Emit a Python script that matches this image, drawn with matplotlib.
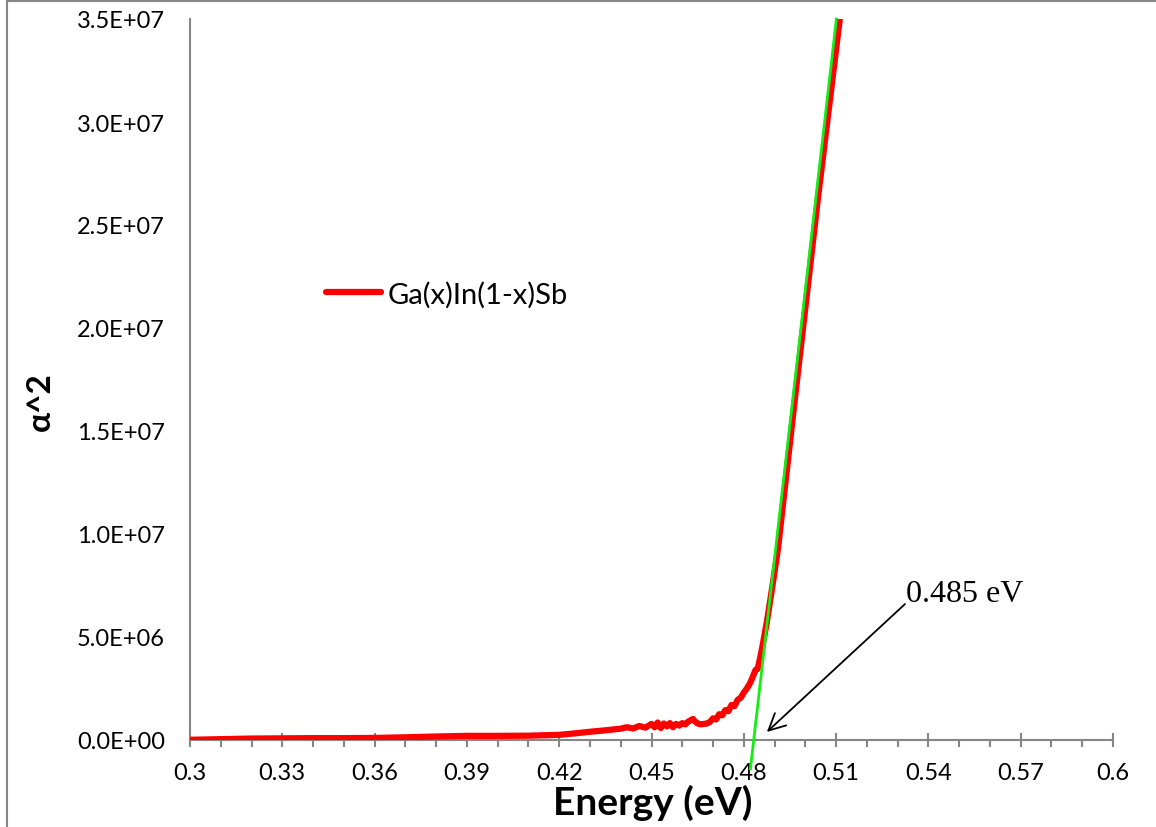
import matplotlib
matplotlib.use("Agg")
import matplotlib.pyplot as plt
from matplotlib.lines import Line2D
from matplotlib.ticker import MultipleLocator, FuncFormatter

# ---- data ----
energy = [0.300, 0.310, 0.320, 0.330, 0.340, 0.350, 0.360, 0.370, 0.380, 0.390,
          0.400, 0.410, 0.420, 0.425, 0.430, 0.435, 0.440, 0.442, 0.444, 0.446,
          0.448, 0.450, 0.451, 0.452, 0.453, 0.454, 0.455, 0.456, 0.457, 0.458,
          0.459, 0.460, 0.461, 0.462, 0.463, 0.4635, 0.464, 0.465, 0.466, 0.467,
          0.468, 0.469, 0.470, 0.471, 0.472, 0.473, 0.474, 0.475, 0.476, 0.477,
          0.478, 0.479, 0.480, 0.481, 0.482, 0.483, 0.4838, 0.4845, 0.4852, 0.486,
          0.4875, 0.4895, 0.4911, 0.4966, 0.5041, 0.5112, 0.5125]
alpha_sq = [0.01e6, 0.04e6, 0.07e6, 0.08e6, 0.09e6, 0.09e6, 0.10e6, 0.13e6, 0.17e6, 0.20e6,
            0.20e6, 0.21e6, 0.25e6, 0.32e6, 0.40e6, 0.47e6, 0.55e6, 0.62e6, 0.56e6, 0.68e6,
            0.60e6, 0.78e6, 0.62e6, 0.85e6, 0.58e6, 0.80e6, 0.66e6, 0.82e6, 0.62e6, 0.78e6,
            0.70e6, 0.82e6, 0.76e6, 0.90e6, 0.98e6, 1.02e6, 0.92e6, 0.80e6, 0.76e6, 0.78e6,
            0.80e6, 0.88e6, 1.05e6, 1.00e6, 1.25e6, 1.20e6, 1.45e6, 1.40e6, 1.70e6, 1.65e6,
            1.95e6, 2.05e6, 2.30e6, 2.50e6, 2.75e6, 3.10e6, 3.40e6, 3.45e6, 3.90e6, 4.50e6,
            5.73e6, 7.67e6, 9.27e6, 1.655e7, 2.63e7, 3.50e7, 3.66e7]

fit_energy = [0.48215, 0.5101]
fit_alpha_sq = [-1.4e6, 3.5e7]

series_label = "Ga(x)In(1-x)Sb"
xlabel = "Energy (eV)"
ylabel = "α^2"
annot_text = "0.485 eV"
annot_tip = (0.4875, 0.39e6)
annot_tail = (0.5324, 6.6e6)

W, H = 1156, 828
fig = plt.figure(figsize=(W / 100, H / 100), dpi=100)
ax = fig.add_axes([190 / W, 1 - 741 / H, (1113 - 190) / W, (741 - 20) / H])

grey = "#868686"
font = ["Lato", "DejaVu Sans"]

ax.plot(energy, alpha_sq, color="#ff0000", lw=4.5, solid_capstyle="round",
        solid_joinstyle="round", label=series_label, zorder=3)
ax.plot(fit_energy, fit_alpha_sq, color="#11ee11", lw=2.0, clip_on=False, zorder=4)

ax.set_xlim(0.3, 0.6)
ax.set_ylim(0, 3.5e7)

for s in ["top", "right"]:
    ax.spines[s].set_visible(False)
for s in ["left", "bottom"]:
    ax.spines[s].set_color(grey)
    ax.spines[s].set_linewidth(1.5)

ax.xaxis.set_major_locator(MultipleLocator(0.03))
ax.xaxis.set_minor_locator(MultipleLocator(0.01))
ax.yaxis.set_major_locator(MultipleLocator(5e6))


def xfmt(v, p):
    s = f"{v:.2f}"
    if s.endswith("0"):
        s = s[:-1]
    return s


ax.xaxis.set_major_formatter(FuncFormatter(xfmt))
ax.yaxis.set_major_formatter(FuncFormatter(lambda v, p: f"{v:.1E}"))
ax.tick_params(axis="x", which="major", direction="inout", length=10, width=1.5,
               color=grey, labelsize=17, pad=11)
ax.tick_params(axis="x", which="minor", direction="out", length=5, width=1.5, color=grey)
ax.tick_params(axis="y", which="major", length=0, labelsize=17, pad=18)
for lab in ax.get_xticklabels() + ax.get_yticklabels():
    lab.set_fontfamily(font)

ax.set_xlabel(xlabel, fontsize=28, fontweight="bold", fontfamily=font)
ax.xaxis.set_label_coords((653 - 190) / 923, -(803 - 741) / 721)
ax.xaxis.label.set_va("center")
ax.set_ylabel(ylabel, fontsize=24, fontweight="bold", fontfamily=font)
ax.yaxis.set_label_coords((40 - 190) / 923, (741 - 402) / 721)
ax.yaxis.label.set_va("center")

leg = ax.legend(loc="center left", bbox_to_anchor=(326 / W, 1 - 295 / H),
                bbox_transform=fig.transFigure, frameon=False, borderpad=0,
                borderaxespad=0, prop={"family": font, "size": 21},
                handlelength=1.9, handletextpad=0.2)

ax.annotate("", xy=annot_tip, xytext=annot_tail, xycoords="data", textcoords="data",
            arrowprops=dict(arrowstyle="->", color="black", lw=1.3, mutation_scale=30,
                            shrinkA=0, shrinkB=0))
ax.text(906 / W, 1 - 595 / H, annot_text, transform=fig.transFigure, va="center",
        ha="left", fontsize=23, fontfamily="Liberation Serif")

# figure border (left and top visible)
fig.add_artist(Line2D([7 / W, 7 / W], [0, 1 - 2 / H], transform=fig.transFigure,
                      color=grey, lw=1.5))
fig.add_artist(Line2D([7 / W, 1], [1 - 2 / H, 1 - 2 / H], transform=fig.transFigure,
                      color=grey, lw=1.5))

fig.savefig("out.png", dpi=100)
